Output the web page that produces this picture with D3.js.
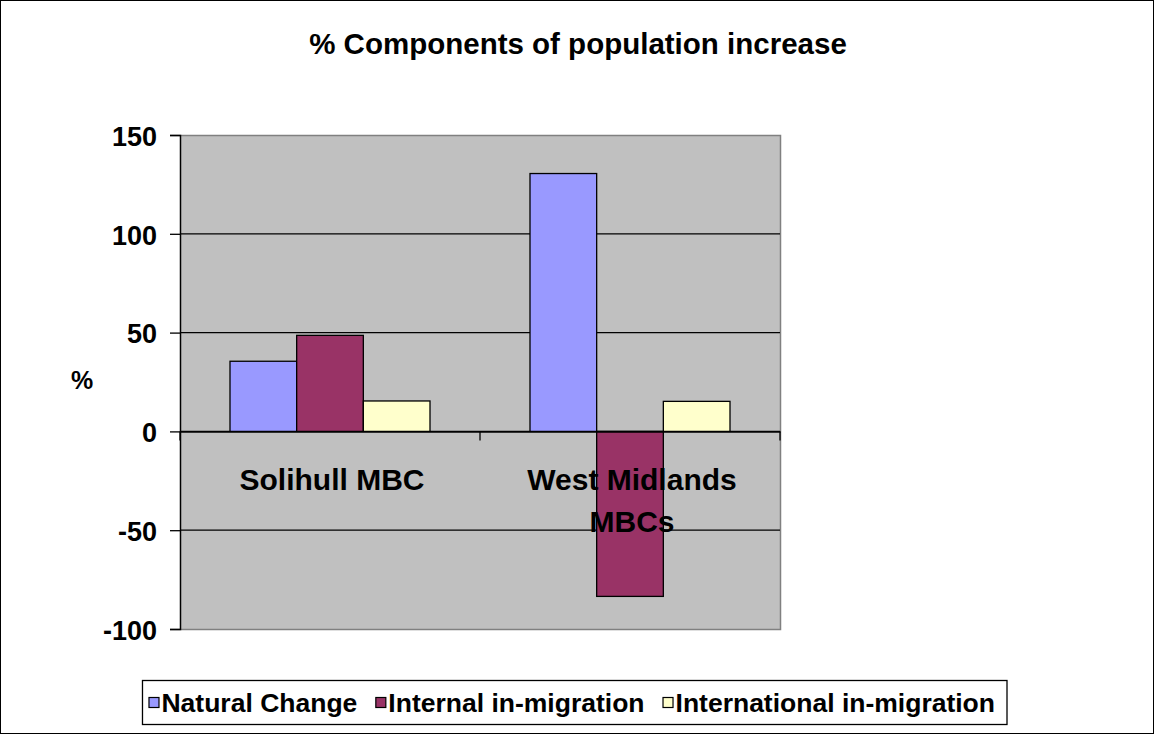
<!DOCTYPE html>
<html>
<head>
<meta charset="utf-8">
<script src="https://cdn.jsdelivr.net/npm/d3@7"></script>
<style>
  html, body { margin: 0; padding: 0; background: #fff; }
  svg { display: block; font-family: "Liberation Sans", Arial, sans-serif; font-weight: bold; }
</style>
</head>
<body>
<svg id="chart" width="1154" height="734"></svg>
<script>
// Data
const categories = ["Solihull MBC", "West Midlands MBCs"];
const series = ["Natural Change", "Internal in-migration", "International in-migration"];
const naturalChange = [35.5, 130.5];
const internalMigration = [48.6, -83.5];
const internationalMigration = [15.4, 15.2];
const yTicks = [-100, -50, 0, 50, 100, 150];
const seriesColors = ["#9999FF", "#993366", "#FFFFCC"];

const values = [naturalChange, internalMigration, internationalMigration];

const svg = d3.select("#chart");
const W = 1154, H = 734;

// Chart border
svg.append("rect").attr("x", 0.5).attr("y", 0.5).attr("width", W - 1).attr("height", H - 1)
  .attr("fill", "#fff").attr("stroke", "#000").attr("stroke-width", 1);

// Title
svg.append("text").attr("x", 578).attr("y", 54).attr("text-anchor", "middle")
  .attr("font-size", 29.5).text("% Components of population increase");

const plot = { left: 180, right: 780, top: 135, bottom: 629 };

const y = d3.scaleLinear().domain([-100, 150]).range([plot.bottom, plot.top]);
const x0 = d3.scaleBand().domain(categories).range([plot.left, plot.right]).padding(0);
const x1 = d3.scaleBand().domain(series).range([0, x0.bandwidth()]).paddingInner(0).paddingOuter(0.75);
const color = d3.scaleOrdinal().domain(series).range(seriesColors);

// Plot area background
svg.append("rect").attr("x", plot.left).attr("y", plot.top)
  .attr("width", plot.right - plot.left).attr("height", plot.bottom - plot.top)
  .attr("fill", "#C0C0C0");
// Gray plot-area frame on top, right and bottom
svg.append("path")
  .attr("d", `M${plot.left},${plot.top + 0.5}H${plot.right + 0.5}V${plot.bottom + 0.5}H${plot.left}`)
  .attr("fill", "none").attr("stroke", "#808080").attr("stroke-width", 1.5);

// Gridlines
svg.append("g").selectAll("line").data(yTicks.filter(d => d !== 150 && d !== -100)).join("line")
  .attr("x1", plot.left).attr("x2", plot.right)
  .attr("y1", d => y(d)).attr("y2", d => y(d))
  .attr("stroke", "#000").attr("stroke-width", 1.3);

// Bars
const groups = svg.append("g").selectAll("g").data(categories).join("g")
  .attr("transform", d => `translate(${x0(d)},0)`);
groups.selectAll("rect")
  .data((c, ci) => series.map((s, si) => ({ s, v: values[si][ci] })))
  .join("rect")
  .attr("x", d => x1(d.s))
  .attr("width", x1.bandwidth())
  .attr("y", d => y(Math.max(0, d.v)))
  .attr("height", d => Math.abs(y(d.v) - y(0)))
  .attr("fill", d => color(d.s))
  .attr("stroke", "#000").attr("stroke-width", 1.3);

// Y axis
const yAxis = d3.axisLeft(y).tickValues(yTicks).tickSize(10).tickPadding(13).tickFormat(d => String(d));
const gy = svg.append("g").attr("transform", `translate(${plot.left},0)`).call(yAxis);
gy.select(".domain").attr("stroke", "#000").attr("stroke-width", 1.5);
gy.selectAll(".tick line").attr("stroke", "#000").attr("stroke-width", 1.3);
gy.selectAll(".tick text").attr("font-size", 27).attr("font-weight", "bold")
  .attr("font-family", "Liberation Sans, Arial, sans-serif").attr("fill", "#000").attr("dy", "0.38em");

// Y axis title
svg.append("text").attr("x", 82).attr("y", 389).attr("text-anchor", "middle")
  .attr("font-size", 25).text("%");

// Category axis along zero
const xAxis = d3.axisBottom(x0).tickSize(0).tickFormat("");
const gx = svg.append("g").attr("transform", `translate(0,${y(0)})`).call(xAxis);
gx.select(".domain").attr("stroke", "#000").attr("stroke-width", 1.5);
gx.selectAll(".tick").remove();
// Tick marks between categories
const boundaries = [plot.left, ...categories.slice(1).map(c => x0(c)), plot.right];
gx.selectAll("line.cat").data(boundaries).join("line").attr("class", "cat")
  .attr("x1", d => d).attr("x2", d => d).attr("y1", 0).attr("y2", 9)
  .attr("stroke", "#000").attr("stroke-width", 1.3);

// Category labels (wrapped)
const catLines = [["Solihull MBC"], ["West Midlands", "MBCs"]];
categories.forEach((c, i) => {
  const cx = x0(c) + x0.bandwidth() / 2 + 2;
  const t = svg.append("text").attr("text-anchor", "middle").attr("font-size", 30)
    .attr("x", cx).attr("y", 490);
  catLines[i].forEach((ln, j) => {
    t.append("tspan").attr("x", cx).attr("dy", j === 0 ? 0 : 42).text(ln);
  });
});

// Legend
const legend = svg.append("g");
const legendBox = legend.append("rect").attr("y", 680.5).attr("height", 44)
  .attr("fill", "#fff").attr("stroke", "#000").attr("stroke-width", 1.3);
const itemGap = 18;
const swatchText = 13;
let lx = 0;
const items = legend.append("g");
series.forEach((s, i) => {
  const g = items.append("g").attr("transform", `translate(${lx},0)`);
  g.append("rect").attr("x", 0.5).attr("y", 697.5).attr("width", 10).attr("height", 10)
    .attr("fill", color(s)).attr("stroke", "#000").attr("stroke-width", 1.2);
  const t = g.append("text").attr("x", swatchText).attr("y", 712).attr("font-size", 26.5).text(s);
  lx += swatchText + t.node().getComputedTextLength() + itemGap;
});
const totalW = lx - itemGap;
const itemsLeft = 995 - totalW;
items.attr("transform", `translate(${itemsLeft},0)`);
legendBox.attr("x", itemsLeft - 6).attr("width", 1007 - (itemsLeft - 6));
</script>
</body>
</html>
